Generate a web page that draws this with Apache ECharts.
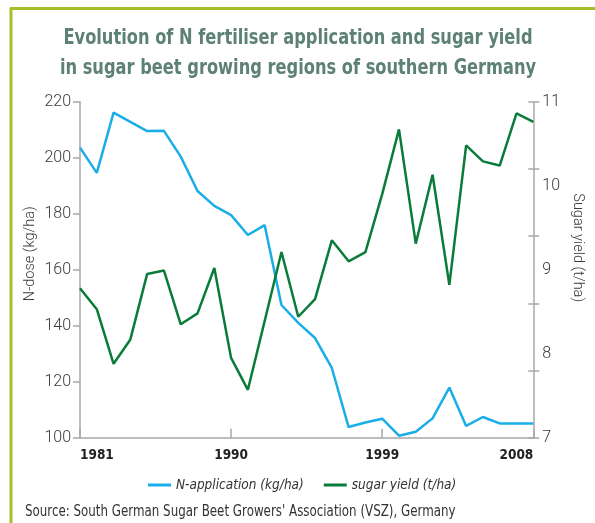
<!DOCTYPE html>
<html>
<head>
<meta charset="utf-8">
<script src="https://cdn.jsdelivr.net/npm/echarts@6/dist/echarts.min.js"></script>
<style>
html,body{margin:0;padding:0;background:#fff;}
#chart{width:595px;height:523px;}
</style>
</head>
<body>
<div id="chart"></div>
<script>
// ---- data ----
var years = ['1981','1982','1983','1984','1985','1986','1987','1988','1989','1990',
             '1991','1992','1993','1994','1995','1996','1997','1998','1999','2000',
             '2001','2002','2003','2004','2005','2006','2007','2008'];
var nApplication = [203.6, 194.6, 216.1, 212.8, 209.5, 209.6, 200.4, 188.1, 182.8, 179.5,
                    172.4, 175.9, 147.4, 141.0, 135.6, 124.9, 103.8, 105.4, 106.8, 100.7,
                    102.1, 106.9, 117.9, 104.2, 107.4, 105.1, 105.1, 105.1];
var sugarYield = [8.78, 8.53, 7.88, 8.17, 8.95, 8.99, 8.35, 8.48, 9.02, 7.95,
                  7.57, 8.39, 9.21, 8.44, 8.65, 9.35, 9.10, 9.21, 9.90, 10.67,
                  9.31, 10.13, 8.82, 10.48, 10.29, 10.24, 10.86, 10.76];
var leftTicks = [100, 220, 20];           // min, max, interval
var rightLabels = [7, 8, 9, 10, 11];
var rightTicks = [7, 7.8, 8.6, 9.4, 10.2, 11];
var seriesNames = ['N-application (kg/ha)', 'sugar yield (t/ha)'];
var titleLines = ['Evolution of N fertiliser application and sugar yield',
                  'in sugar beet growing regions of southern Germany'];
var sourceText = "Source: South German Sugar Beet Growers' Association (VSZ), Germany";

var BLUE = '#1aaee8', GREEN = '#0a7c3a', AXIS = '#a8a8a8', FRAME = '#a6bd2c';
var COND = "'DejaVu Sans Condensed', sans-serif";
var labelFont = {fontFamily: 'Roboto', fontWeight: 300, fontSize: 16, color: '#3a3a3a'};
var nameFont = {fontFamily: 'Roboto', fontWeight: 300, fontSize: 14.5, color: '#3a3a3a'};

var chart = echarts.init(document.getElementById('chart'), null, {renderer: 'canvas'});
chart.setOption({
  animation: false,
  backgroundColor: '#fff',
  graphic: [
    {type: 'line', shape: {x1: 11, y1: 8, x2: 11, y2: 523}, style: {stroke: FRAME, lineWidth: 3}},
    {type: 'line', shape: {x1: 10, y1: 8.5, x2: 595, y2: 8.5}, style: {stroke: FRAME, lineWidth: 3}},
    {type: 'group', x: 298, y: 39, scaleX: 0.86, children: [
      {type: 'text', style: {text: titleLines[0], x: 0, y: 0, align: 'center', verticalAlign: 'middle',
        fontFamily: COND, fontWeight: 'bold', fontSize: 21, fill: '#5d8172'}},
      {type: 'text', style: {text: titleLines[1], x: 0, y: 30, align: 'center', verticalAlign: 'middle',
        fontFamily: COND, fontWeight: 'bold', fontSize: 21, fill: '#5d8172'}}
    ]},
    {type: 'group', x: 25, y: 511.7, scaleX: 0.88, children: [
      {type: 'text', style: {text: sourceText, x: 0, y: 0, align: 'left', verticalAlign: 'middle',
        fontFamily: COND, fontSize: 15, fill: '#333'}}
    ]}
  ],
  legend: {
    left: 143, top: 473,
    itemWidth: 23, itemHeight: 3, itemGap: 20,
    icon: 'rect',
    textStyle: {fontFamily: COND, fontStyle: 'italic', fontSize: 13.5, color: '#333'},
    data: seriesNames
  },
  grid: {left: 80, right: 61.7, top: 101.7, bottom: 85.3, containLabel: false},
  xAxis: {
    type: 'category', data: years, boundaryGap: false,
    axisLine: {lineStyle: {color: AXIS, width: 1.5}},
    axisTick: {inside: true, length: 9, interval: 8, lineStyle: {color: AXIS, width: 1.5}},
    axisLabel: {interval: 8, fontFamily: COND, fontWeight: 'bold', fontSize: 13.5, color: '#222', margin: 11,
                alignMinLabel: 'left', alignMaxLabel: 'right'},
    splitLine: {show: false}
  },
  yAxis: [
    {
      type: 'value', position: 'left', min: leftTicks[0], max: leftTicks[1], interval: leftTicks[2],
      name: 'N-dose (kg/ha)', nameLocation: 'middle', nameGap: 42, nameMoveOverlap: false,
      nameTextStyle: Object.assign({padding: [0, 0, 0, 32]}, nameFont),
      axisLine: {show: true, lineStyle: {color: AXIS, width: 1.5}},
      axisTick: {show: true, length: 7, lineStyle: {color: AXIS, width: 1.5}},
      axisLabel: Object.assign({margin: 9, padding: [0, 0, 14, 0]}, labelFont),
      splitLine: {show: false}
    },
    {
      type: 'value', position: 'right', min: 7, max: 11,
      name: 'Sugar yield (t/ha)', nameLocation: 'middle', nameGap: 37, nameRotate: -90, nameMoveOverlap: false,
      nameTextStyle: Object.assign({padding: [0, 44, 0, 0]}, nameFont),
      axisLine: {show: true, lineStyle: {color: AXIS, width: 1.5}},
      axisTick: {show: true, length: 6, customValues: rightTicks, lineStyle: {color: AXIS, width: 1.5}},
      axisLabel: Object.assign({margin: 9, padding: [0, 0, 14, 0], customValues: rightLabels}, labelFont),
      splitLine: {show: false}
    },
    {
      type: 'value', position: 'right', min: 7, max: 11,
      axisLine: {show: false},
      axisTick: {show: true, inside: true, length: 5, customValues: rightTicks, lineStyle: {color: AXIS, width: 1.5}},
      axisLabel: {show: false},
      splitLine: {show: false}
    }
  ],
  series: [
    {name: seriesNames[0], type: 'line', yAxisIndex: 0, data: nApplication, symbol: 'none',
     lineStyle: {color: BLUE, width: 2.5}, itemStyle: {color: BLUE}},
    {name: seriesNames[1], type: 'line', yAxisIndex: 1, data: sugarYield, symbol: 'none',
     lineStyle: {color: GREEN, width: 2.5}, itemStyle: {color: GREEN}}
  ]
});
</script>
</body>
</html>
